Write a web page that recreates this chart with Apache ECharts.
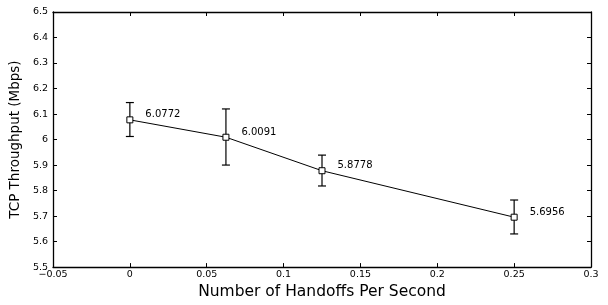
<!DOCTYPE html>
<html>
<head>
<meta charset="utf-8">
<script src="https://cdn.jsdelivr.net/npm/echarts@6/dist/echarts.min.js"></script>
<style>
  html, body { margin: 0; padding: 0; background: #fff; }
  #chart { width: 608px; height: 305px; }
</style>
</head>
<body>
<div id="chart"></div>
<script>
// handoff rate vs throughput
var handoffs = [0, 0.0625, 0.125, 0.25]
var throughput = [6.0772, 6.0091, 5.8778, 5.6956]
var errLow = [6.012, 5.900, 5.818, 5.630]
var errHigh = [6.145, 6.120, 5.939, 5.763]

// wide sans, the original text looks stretched sideways
var font = 'DejaVu Sans, Liberation Sans, sans-serif'

var linePts = handoffs.map(function (x, i) { return [x, throughput[i]] })
var errPts = handoffs.map(function (x, i) { return [x, errLow[i], errHigh[i]] })

var boxAxis = {
  axisLine: { show: true, onZero: false, lineStyle: { color: '#000', width: 1.3 } },
  axisTick: { show: true, inside: true, length: 4, lineStyle: { color: '#000' } },
  splitLine: { show: false }
}

var myChart = echarts.init(document.getElementById('chart'))
var option = {
  animation: false,
  grid: { left: 52, right: 17, top: 12, bottom: 29 },
  xAxis: [
    Object.assign({
      type: 'value', min: -0.05, max: 0.3, interval: 0.05,
      name: 'Number of Handoffs Per Second',
      nameLocation: 'middle', nameGap: 15,
      nameTextStyle: { fontFamily: font, fontSize: 15.5, color: '#000' },
      axisLabel: {
        fontFamily: font, fontSize: 9.5, color: '#000', margin: 2,
        formatter: function (v) { return String(+v.toFixed(2)).replace('-', '\u2212') }
      }
    }, boxAxis),
    Object.assign({
      type: 'value', position: 'top', min: -0.05, max: 0.3, interval: 0.05,
      axisLabel: { show: false }
    }, boxAxis)
  ],
  yAxis: [
    Object.assign({
      type: 'value', min: 5.5, max: 6.5, interval: 0.1,
      name: 'TCP Throughput (Mbps)',
      nameLocation: 'middle', nameGap: 28,
      nameTextStyle: { fontFamily: font, fontSize: 13.5, color: '#000' },
      axisLabel: {
        fontFamily: font, fontSize: 9.5, color: '#000', margin: 5,
        formatter: function (v) { return String(+v.toFixed(1)) }
      }
    }, boxAxis),
    Object.assign({
      type: 'value', position: 'right', min: 5.5, max: 6.5, interval: 0.1,
      axisLabel: { show: false }
    }, boxAxis)
  ],
  series: [
    {
      type: 'custom',
      data: errPts,
      z: 1,
      renderItem: function (params, api) {
        var lo = api.coord([api.value(0), api.value(1)])
        var hi = api.coord([api.value(0), api.value(2)])
        var w = 4
        var st = { stroke: '#000', lineWidth: 1.2 }
        return {
          type: 'group',
          children: [
            { type: 'line', shape: { x1: lo[0], y1: lo[1], x2: hi[0], y2: hi[1] }, style: st },
            { type: 'line', shape: { x1: lo[0] - w, y1: lo[1], x2: lo[0] + w, y2: lo[1] }, style: st },
            { type: 'line', shape: { x1: hi[0] - w, y1: hi[1], x2: hi[0] + w, y2: hi[1] }, style: st }
          ]
        }
      }
    },
    {
      type: 'line',
      data: linePts,
      z: 2,
      lineStyle: { color: '#000', width: 1 },
      symbol: 'rect',
      symbolSize: 6,
      itemStyle: { color: '#fff', borderColor: '#000', borderWidth: 1 },
      label: {
        show: true,
        position: 'right',
        distance: 12,
        offset: [0, -5],
        fontFamily: font,
        fontSize: 10,
        color: '#000',
        formatter: function (p) { return p.value[1].toFixed(4) }
      }
    }
  ]
}
myChart.setOption(option)
</script>
</body>
</html>
